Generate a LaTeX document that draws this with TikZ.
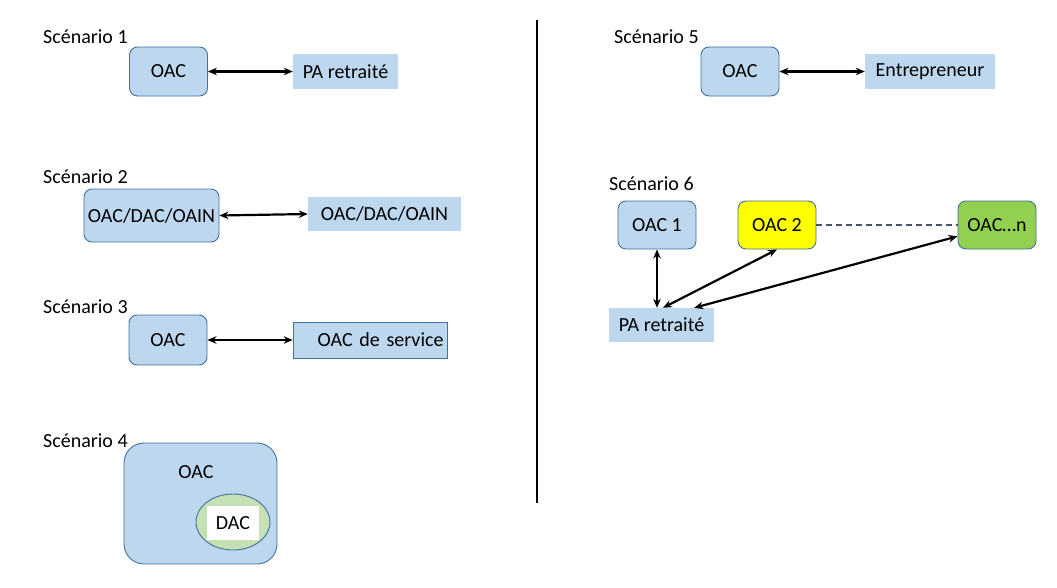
\documentclass[tikz,border=0pt]{standalone}
\usepackage{fontspec}
\setmainfont{Carlito}
\usetikzlibrary{arrows.meta,shapes.geometric,positioning}
\definecolor{oacblue}{HTML}{BDD7EE}
\definecolor{oacline}{HTML}{41719C}
\definecolor{dacgreen}{HTML}{C5E0B4}
\definecolor{oacgreen}{HTML}{92D050}
\definecolor{oacyellow}{HTML}{FFFF00}
\definecolor{dashgray}{HTML}{44546A}

\begin{document}
\begin{tikzpicture}[x=1pt, y=-1pt,
    every node/.style={font=\fontsize{20}{24}\selectfont, inner sep=0pt},
    oacbox/.style={draw=oacline, fill=oacblue, line width=0.9pt, rounded corners=8pt,
        minimum width=78pt, minimum height=49pt},
    pabox/.style={fill=oacblue, minimum height=35pt},
    biarrow/.style={{Stealth[length=9pt,width=7.5pt]}-{Stealth[length=9pt,width=7.5pt]}, line width=2.2pt},
    scen/.style={anchor=base west}]
    \useasboundingbox (0,0) rectangle (1057,587);

    % Scenario 1
    \node[scen] (s1title) at (43,43) {Scénario 1};
    \node[oacbox] (s1oac) at (168.5,71.5) {OAC};
    \node[pabox, minimum width=105pt] (s1pa) at (345.5,71.5) {PA retraité};
    \draw[biarrow] (s1oac.east) -- (s1pa.west);

    % Scenario 2
    \node[scen] (s2title) at (43,183) {Scénario 2};
    \node[oacbox, minimum width=135pt, minimum height=53pt] (s2oac) at (151.5,215.5) {OAC/DAC/OAIN};
    \node[pabox, minimum width=153pt, minimum height=34pt] (s2other) at (384.5,214) {OAC/DAC/OAIN};
    \draw[biarrow] (s2oac.east) -- (s2other.west);

    % Scenario 3
    \node[scen] (s3title) at (43,313) {Scénario 3};
    \node[oacbox, minimum height=50pt] (s3oac) at (168,340) {OAC};
    \node[pabox, draw=oacline, line width=0.6pt, minimum height=36pt,
        text width=147pt, inner xsep=3.5pt, align=right] (s3svc) at (370,340) {OAC de service};
    \draw[biarrow] (s3oac.east) -- (s3svc.west);

    % Scenario 4
    \node[scen] (s4title) at (43,447) {Scénario 4};
    \node[oacbox, rounded corners=20pt, minimum width=153pt, minimum height=121pt,
        label={[anchor=center, xshift=-4.5pt, yshift=-30pt]north:OAC}] (s4oac) at (200.5,503.5) {};
    \node[ellipse, draw=oacline, fill=dacgreen, line width=0.9pt,
        minimum width=74pt, minimum height=56pt] (s4ell) at (233,522) {};
    \node[fill=white, minimum width=52pt, minimum height=34pt] (s4dac) at (233,523) {DAC};

    % Divider
    \draw[line width=2pt] (537,20) -- (537,503);

    % Scenario 5
    \node[scen] (s5title) at (614,43) {Scénario 5};
    \node[oacbox] (s5oac) at (740,71.5) {OAC};
    \node[pabox, minimum width=130pt] (s5ent) at (930,71.5) {Entrepreneur};
    \draw[biarrow] (s5oac.east) -- (s5ent.west);

    % Scenario 6
    \node[scen] (s6title) at (609,190) {Scénario 6};
    \node[oacbox, minimum height=48pt] (s6oac1) at (657,225) {OAC 1};
    \node[oacbox, minimum height=48pt, fill=oacyellow] (s6oac2) at (777,225) {OAC 2};
    \node[oacbox, minimum height=48pt, fill=oacgreen] (s6oacn) at (997,225) {OAC…n};
    \node[pabox, minimum width=105pt, minimum height=34pt] (s6pa) at (661.5,325) {PA retraité};
    \draw[biarrow] (s6oac1.south) -- (s6oac1.south |- s6pa.north);
    \draw[biarrow] (s6oac2.south) -- ([xshift=1.5pt]s6pa.north);
    \draw[biarrow] (s6oacn.196) -- ([xshift=-20pt]s6pa.north east);
    \draw[dashgray, dash pattern=on 6pt off 4pt, line width=2.2pt] (s6oac2.east) -- (s6oacn.west);
\end{tikzpicture}
\end{document}
